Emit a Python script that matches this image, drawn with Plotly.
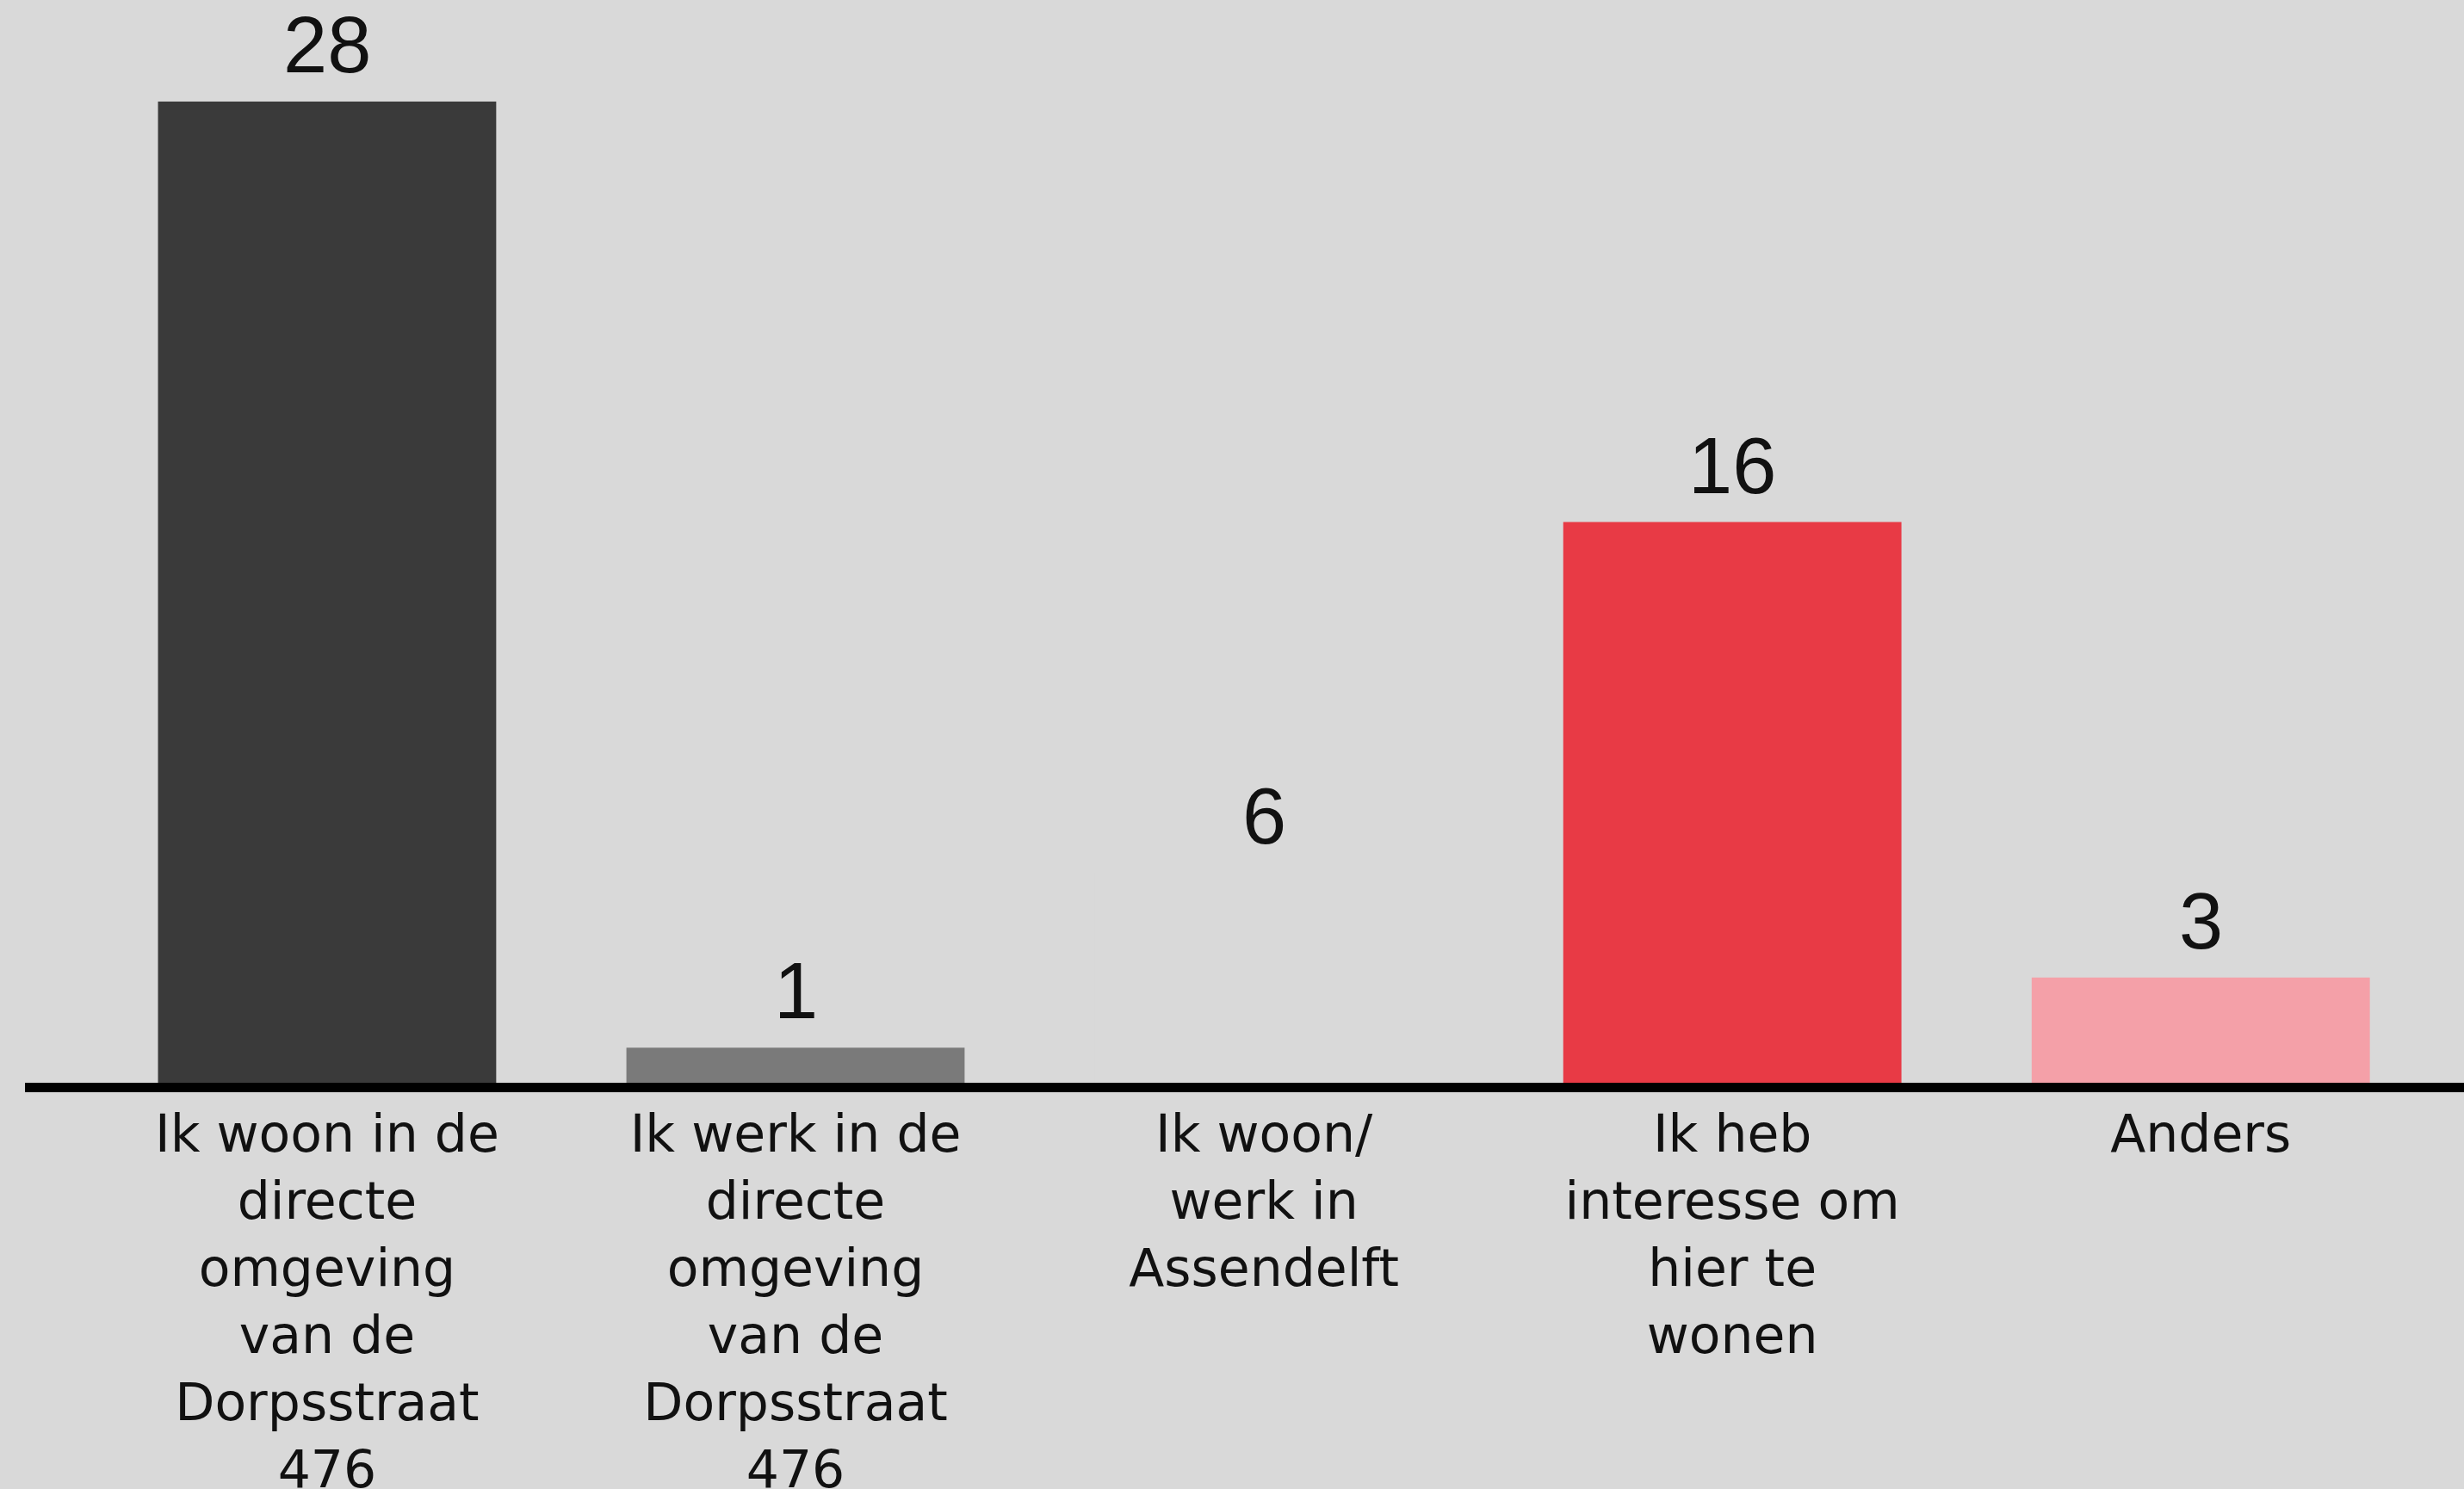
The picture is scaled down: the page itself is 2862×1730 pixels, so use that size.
import plotly.graph_objects as go

categories = [
    "Ik woon in de<br>directe<br>omgeving<br>van de<br>Dorpsstraat<br>476",
    "Ik werk in de<br>directe<br>omgeving<br>van de<br>Dorpsstraat<br>476",
    "Ik woon/<br>werk in<br>Assendelft",
    "Ik heb<br>interesse om<br>hier te<br>wonen",
    "Anders",
]
values = [28, 1, 6, 16, 3]
colors = ["#3a3a3a", "#7a7a7a", "#d9d9d9", "#e83a45", "#f4a0a8"]

BG = "#d9d9d9"

fig = go.Figure()
fig.add_trace(go.Bar(
    x=list(range(len(categories))),
    y=values,
    marker=dict(color=colors, line=dict(width=0)),
    hoverinfo="skip",
))

for i, v in enumerate(values):
    fig.add_annotation(
        x=i, y=v, text=str(v), showarrow=False,
        yanchor="bottom", yshift=13,
        font=dict(family="Liberation Sans", size=92, color="#111111"),
    )

fig.update_layout(
    width=2862, height=1730,
    paper_bgcolor=BG, plot_bgcolor=BG,
    margin=dict(l=29, r=0, t=0, b=472),
    bargap=0.278,
    showlegend=False,
    xaxis=dict(
        range=[-0.645, 4.562],
        tickmode="array",
        tickvals=list(range(len(categories))),
        ticktext=categories,
        showline=True, linecolor="#000000", linewidth=11,
        showgrid=False, zeroline=False,
        ticks="", ticklabelstandoff=-3,
        automargin=False,
        tickfont=dict(family="DejaVu Sans", size=60, color="#111111"),
        fixedrange=True,
    ),
    yaxis=dict(
        range=[0, 30.9],
        visible=False,
        showgrid=False, zeroline=False,
        automargin=False,
        fixedrange=True,
    ),
)

fig.write_html(
    "out.html",
    config={"displayModeBar": False, "staticPlot": True},
    post_script="document.body.style.margin='0';document.body.style.overflow='hidden';",
)
